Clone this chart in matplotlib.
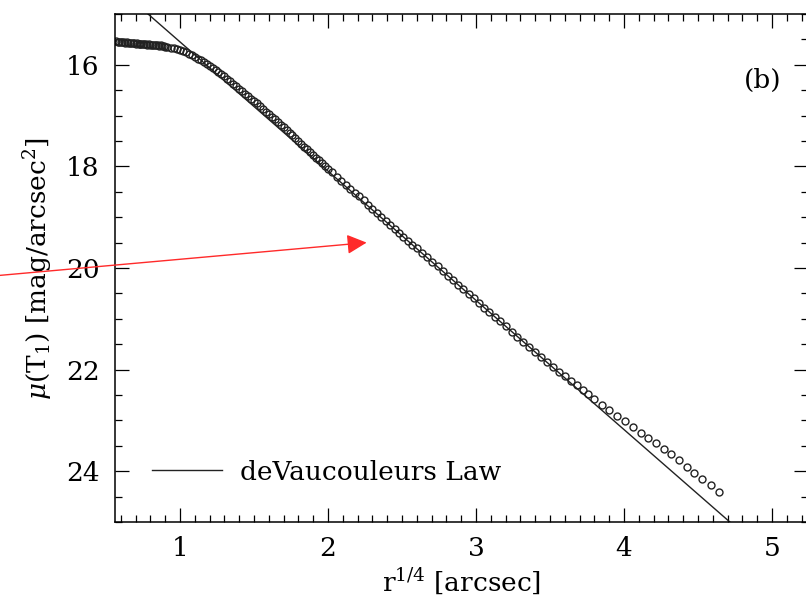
# surface brightness profile with de Vaucouleurs fit

import numpy as np
import matplotlib.pyplot as plt

# flat inner part
r_inner = [0.57, 0.58, 0.59, 0.60, 0.61, 0.62, 0.63, 0.64, 0.65, 0.66, 0.67, 0.68,
           0.69, 0.70, 0.71, 0.72, 0.73, 0.74, 0.75, 0.76, 0.77, 0.78, 0.79, 0.80,
           0.81, 0.82, 0.83, 0.84, 0.85, 0.86, 0.87, 0.88, 0.89, 0.90, 0.91]
mu_inner = [15.54, 15.55, 15.55, 15.56, 15.55, 15.56, 15.57, 15.56, 15.57, 15.57, 15.58, 15.57,
            15.58, 15.59, 15.58, 15.59, 15.59, 15.60, 15.60, 15.59, 15.60, 15.61, 15.60, 15.61,
            15.61, 15.62, 15.61, 15.62, 15.62, 15.63, 15.62, 15.63, 15.63, 15.64, 15.64]

# dense band
r_band = [0.94, 0.96, 0.98, 1.00, 1.02, 1.04, 1.06, 1.08, 1.10, 1.12, 1.14, 1.16, 1.18,
          1.20, 1.22, 1.24, 1.26, 1.28, 1.30, 1.32, 1.34, 1.36, 1.38, 1.40, 1.42, 1.44,
          1.46, 1.48, 1.50, 1.52, 1.54, 1.56, 1.58, 1.60, 1.62, 1.64, 1.66, 1.68, 1.70,
          1.72, 1.74, 1.76, 1.78, 1.80, 1.82, 1.84, 1.86, 1.88, 1.90, 1.92, 1.94, 1.96,
          1.98, 2.00]
mu_band = [15.66, 15.67, 15.69, 15.70, 15.73, 15.75, 15.78, 15.81, 15.84, 15.88, 15.91, 15.95, 15.99,
           16.02, 16.06, 16.10, 16.14, 16.19, 16.23, 16.28, 16.32, 16.37, 16.42, 16.47, 16.52, 16.57,
           16.62, 16.67, 16.71, 16.76, 16.81, 16.87, 16.92, 16.97, 17.02, 17.07, 17.13, 17.18, 17.23,
           17.28, 17.34, 17.39, 17.44, 17.50, 17.55, 17.61, 17.66, 17.72, 17.77, 17.83, 17.88, 17.94,
           17.99, 18.05]

# middle and outer part
r_outer = [2.03, 2.06, 2.09, 2.12, 2.15, 2.18, 2.21, 2.24, 2.27, 2.30, 2.33, 2.36, 2.39,
           2.42, 2.45, 2.48, 2.51, 2.54, 2.57, 2.60, 2.635, 2.67, 2.705, 2.74, 2.775, 2.81,
           2.845, 2.88, 2.915, 2.95, 2.985, 3.02, 3.055, 3.09, 3.125, 3.16, 3.20, 3.24, 3.28,
           3.32, 3.36, 3.40, 3.44, 3.48, 3.52, 3.56, 3.60, 3.64, 3.68, 3.72, 3.76, 3.80,
           3.85, 3.90, 3.955, 4.005, 4.06, 4.115, 4.165, 4.215, 4.27, 4.32, 4.37, 4.425,
           4.475, 4.53, 4.585, 4.645]
mu_outer = [18.12, 18.20, 18.28, 18.36, 18.44, 18.52, 18.59, 18.67, 18.75, 18.83, 18.91, 18.99, 19.07,
            19.15, 19.23, 19.31, 19.38, 19.46, 19.54, 19.61, 19.70, 19.79, 19.88, 19.97, 20.06, 20.15,
            20.24, 20.33, 20.42, 20.51, 20.60, 20.69, 20.78, 20.87, 20.96, 21.05, 21.15, 21.25, 21.35,
            21.45, 21.55, 21.65, 21.75, 21.85, 21.95, 22.04, 22.13, 22.22, 22.31, 22.40, 22.49, 22.58,
            22.69, 22.80, 22.91, 23.02, 23.13, 23.24, 23.34, 23.45, 23.56, 23.66, 23.78, 23.91,
            24.03, 24.15, 24.27, 24.41]

# de Vaucouleurs law: mu = a + b * r^(1/4)
dv_a = 13.005
dv_b = 2.544
r_fit = [0.5, 5.3]

r_all = np.array(r_inner + r_band + r_outer)
mu_all = np.array(mu_inner + mu_band + mu_outer)

plt.rcParams['font.family'] = 'DejaVu Serif'
plt.rcParams['mathtext.fontset'] = 'dejavuserif'

fig = plt.figure(figsize=(8.06, 6.07), dpi=100)
ax = fig.add_axes([115/806, 85/607, 693/806, 508/607])

ax.plot(r_all, mu_all, 'o', mfc='none', mec='#222222', ms=5.0, mew=1.0)
r_line = np.array(r_fit)
ax.plot(r_line, dv_a + dv_b * r_line, color='#222222', lw=1.0, label='deVaucouleurs Law')

ax.set_xlim(0.561, 5.243)
ax.set_ylim(25, 15)

ax.set_xticks([1, 2, 3, 4, 5])
ax.set_xticks(np.arange(0.6, 5.25, 0.1), minor=True)
ax.set_yticks([16, 18, 20, 22, 24])
ax.set_yticks(np.arange(15, 25.01, 0.5), minor=True)
ax.tick_params(which='both', direction='in', top=True, right=True, width=0.9, labelsize=19)
ax.tick_params(which='major', length=10)
ax.tick_params(which='minor', length=5)
ax.tick_params(axis='x', pad=10)
ax.tick_params(axis='y', pad=11)
for s in ax.spines.values():
    s.set_linewidth(1.1)

ax.set_xlabel(r'r$^{1/4}$ [arcsec]', fontsize=19, labelpad=4)
ax.set_ylabel(r'$\mu$(T$_1$) [mag/arcsec$^2$]', fontsize=19, labelpad=8)

ax.text(0.935, 0.87, '(b)', transform=ax.transAxes, fontsize=19, ha='center', va='center')

ax.legend(loc='center left', bbox_to_anchor=(0.053, 0.098), frameon=False, fontsize=19,
          handlelength=2.65, handletextpad=0.68, borderpad=0, borderaxespad=0)

ax.annotate('', xy=(2.261, 19.50), xytext=(-0.216, 20.145), annotation_clip=False,
            arrowprops=dict(arrowstyle='-|>,head_length=0.6,head_width=0.3', color='#ff2a2a',
                            lw=1.0, mutation_scale=20, shrinkA=0, shrinkB=0))

plt.savefig('out.png', dpi=100)
